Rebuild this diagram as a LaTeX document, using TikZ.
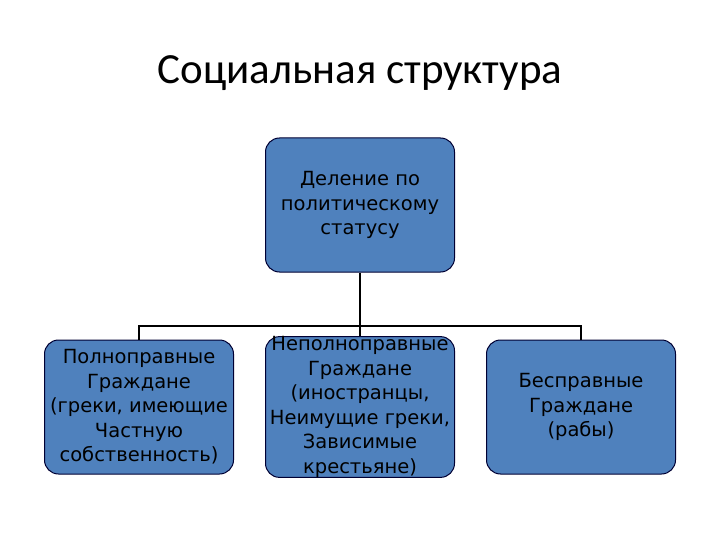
\documentclass[tikz,border=0pt]{standalone}
\usepackage{fontspec}
\setmainfont{DejaVu Sans}
\newfontfamily\titlefont{Carlito}
\begin{document}
\begin{tikzpicture}[x=1pt,y=-1pt,
  box/.style={draw=black!80!blue,line width=1pt,fill={rgb,255:red,79;green,129;blue,189},rounded corners=14pt,minimum width=189pt,minimum height=134pt,align=center,font=\fontsize{19.5}{24.5}\selectfont,inner sep=0pt},
  conn/.style={line width=2.2pt,black}]
\useasboundingbox (0,0) rectangle (720,540);
\node[font=\titlefont\fontsize{43}{48}\selectfont] (title) at (360,73) {Социальная структура};
\node[box] (top) at (360,205) {Деление по\\политическому\\статусу};
\node[box] (l) at (139,407) {Полноправные\\Граждане\\(греки, имеющие\\Частную\\собственность)};
\node[box] (m) at (360,407) {Неполноправные\\Граждане\\(иностранцы,\\Неимущие греки,\\Зависимые\\крестьяне)};
\node[box] (r) at (581,407) {Бесправные\\Граждане\\(рабы)};
\coordinate (j) at (360,326);
\draw[conn] (top.south) -- (j) -- (m.north);
\draw[conn] (l.north) |- (j) -| (r.north);
\end{tikzpicture}
\end{document}
